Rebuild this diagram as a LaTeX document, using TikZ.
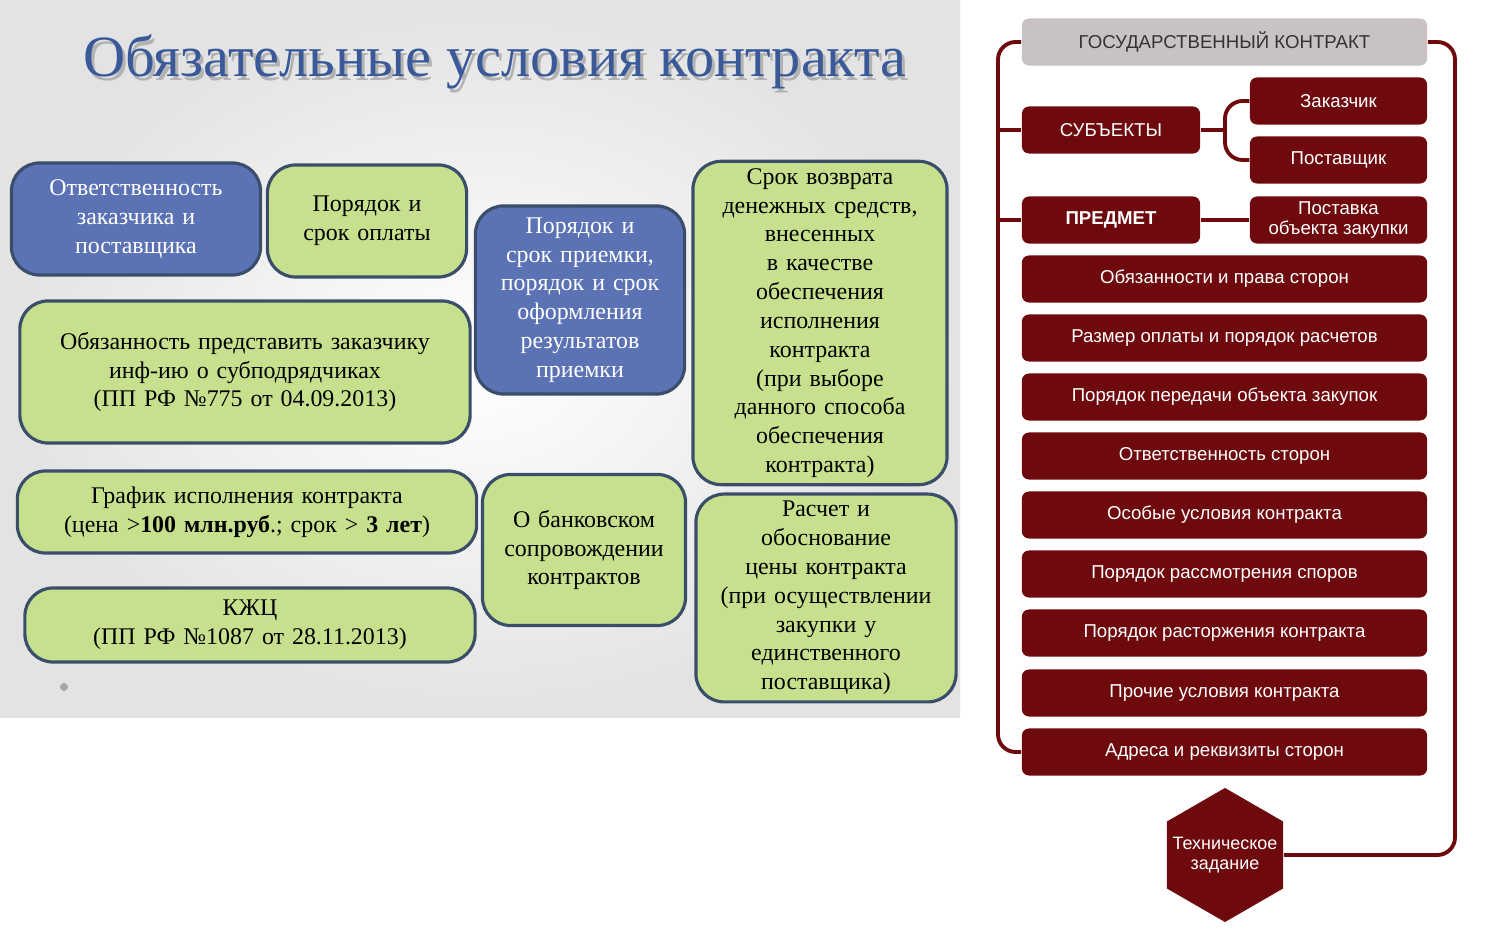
\documentclass[tikz,border=0pt]{standalone}
\usepackage{fontspec}
\setmainfont{Liberation Serif}
\newfontfamily\rightfont{Liberation Sans}
\usetikzlibrary{shapes,positioning,calc}

\definecolor{slideblue}{HTML}{5B72B4}
\definecolor{slidegreen}{HTML}{C7E08E}
\definecolor{slideline}{HTML}{3A4E6A}
\definecolor{titleblue}{HTML}{3A5998}
\definecolor{darkred}{HTML}{6E0A0E}
\definecolor{headgray}{HTML}{C9C2C2}

\begin{document}
\begin{tikzpicture}[x=0.01cm, y=-0.01cm,
    cond/.style={rectangle, draw=slideline, line width=0.9pt, rounded corners=8pt, align=center, inner sep=2pt, font=\fontsize{6.8}{8.2}\selectfont},
    bluecond/.style={cond, fill=slideblue, text=white},
    greencond/.style={cond, fill=slidegreen, text=black},
    clause/.style={rectangle, fill=darkred, rounded corners=2pt, text=white, align=center, minimum height=0.47cm, inner sep=1pt, font=\rightfont\fontsize{5.3}{5.6}\selectfont},
    link/.style={draw=darkred, line width=1.1pt, rounded corners=5pt}
]
    \useasboundingbox (0,0) rectangle (1490,946);
    \shade[inner color=white, outer color=gray!22] (0,0) rectangle (960,718);

    % Заголовок
    \node[text=gray!60, font=\fontsize{16.6}{19}\selectfont] at (498,66) {Обязательные условия контракта};
    \node[text=titleblue, font=\fontsize{16.6}{19}\selectfont] (title) at (495,62) {Обязательные условия контракта};

    % Условия
    \node[bluecond, minimum width=2.49cm, minimum height=1.12cm, text width=2.3cm] (resp) at (136,219) {Ответственность заказчика и поставщика};
    \node[greencond, minimum width=1.92cm, minimum height=1.12cm, text width=1.85cm] (pay) at (367,221) {Порядок и срок оплаты};
    \node[greencond, minimum width=4.5cm, minimum height=1.42cm, text width=4.1cm] (sub) at (245,372) {Обязанность представить заказчику инф-ию о субподрядчиках (ПП РФ №775 от 04.09.2013)};
    \node[greencond, minimum width=4.55cm, minimum height=0.82cm, text width=4.45cm] (sched) at (247,512) {График исполнения контракта (цена >\textbf{100 млн.руб}.; срок > \textbf{3 лет})};
    \node[greencond, minimum width=4.5cm, minimum height=0.74cm, text width=4.2cm] (kzc) at (250,625) {КЖЦ\\(ПП РФ №1087 от 28.11.2013)};
    \node[bluecond, minimum width=2.07cm, minimum height=1.88cm, text width=1.95cm] (accept) at (580,300) {Порядок и срок приемки, порядок и срок оформления результатов приемки};
    \node[greencond, minimum width=2.03cm, minimum height=1.51cm, text width=1.8cm] (bank) at (584,550) {О банковском сопровождении контрактов};
    \node[greencond, minimum width=2.54cm, minimum height=3.16cm, text width=2.0cm] (refund) at (820,323) {Срок возврата денежных средств, внесенных в качестве обеспечения исполнения контракта\\(при выборе данного способа обеспечения контракта)};
    \node[greencond, minimum width=2.6cm, minimum height=2.03cm, text width=2.25cm] (price) at (826,598) {Расчет и обоснование цены контракта\\(при осуществлении закупки у единственного поставщика)};
    \fill[gray!70] (64,687) circle (4);

    % Государственный контракт
    \node[clause, fill=headgray, text=black!80, minimum width=4.05cm] (gk) at (1224.5,42) {ГОСУДАРСТВЕННЫЙ КОНТРАКТ};
    \node[clause, minimum width=1.78cm] (subj) at (1111,130) {СУБЪЕКТЫ};
    \node[clause, minimum width=1.77cm] (cust) at (1338.5,101) {Заказчик};
    \node[clause, minimum width=1.77cm] (supp) at (1338.5,160) {Поставщик};
    \node[clause, minimum width=1.78cm] (obj) at (1111,220) {\textbf{ПРЕДМЕТ}};
    \node[clause, minimum width=1.77cm] (deliv) at (1338.5,220) {Поставка\\объекта закупки};
    \node[clause, minimum width=4.05cm] (c1) at (1224.5,279) {Обязанности и права сторон};
    \node[clause, minimum width=4.05cm] (c2) at (1224.5,338) {Размер оплаты и порядок расчетов};
    \node[clause, minimum width=4.05cm] (c3) at (1224.5,397) {Порядок передачи объекта закупок};
    \node[clause, minimum width=4.05cm] (c4) at (1224.5,456) {Ответственность сторон};
    \node[clause, minimum width=4.05cm] (c5) at (1224.5,515) {Особые условия контракта};
    \node[clause, minimum width=4.05cm] (c6) at (1224.5,574) {Порядок рассмотрения споров};
    \node[clause, minimum width=4.05cm] (c7) at (1224.5,633) {Порядок расторжения контракта};
    \node[clause, minimum width=4.05cm] (c8) at (1224.5,693) {Прочие условия контракта};
    \node[clause, minimum width=4.05cm] (c9) at (1224.5,752) {Адреса и реквизиты сторон};
    \node[regular polygon, regular polygon sides=6, shape border rotate=30, fill=darkred, minimum size=1.34cm, inner sep=0pt] (tz) at (1225,855) {};
    \node[text=white, align=center, inner sep=0pt, font=\rightfont\fontsize{5.1}{5.8}\selectfont] (tztext) at (tz) {Техническое\\задание};

    % Связи
    \coordinate (lt) at (998,42);
    \coordinate (rt) at (1455,42);
    \coordinate (fork) at (1225,130);
    \draw[link] (gk.west) -- (lt) -- (lt |- c9) -- (c9.west);
    \draw[link] (gk.east) -- (rt) -- (rt |- tz) -- (tz.east);
    \draw[link] (lt |- subj) -- (subj.west);
    \draw[link] (lt |- obj) -- (obj.west);
    \draw[link] (subj.east) -- (fork);
    \draw[link] (cust.west) -- (fork |- cust) -- (fork |- supp) -- (supp.west);
    \draw[link] (obj.east) -- (deliv.west);
\end{tikzpicture}
\end{document}
